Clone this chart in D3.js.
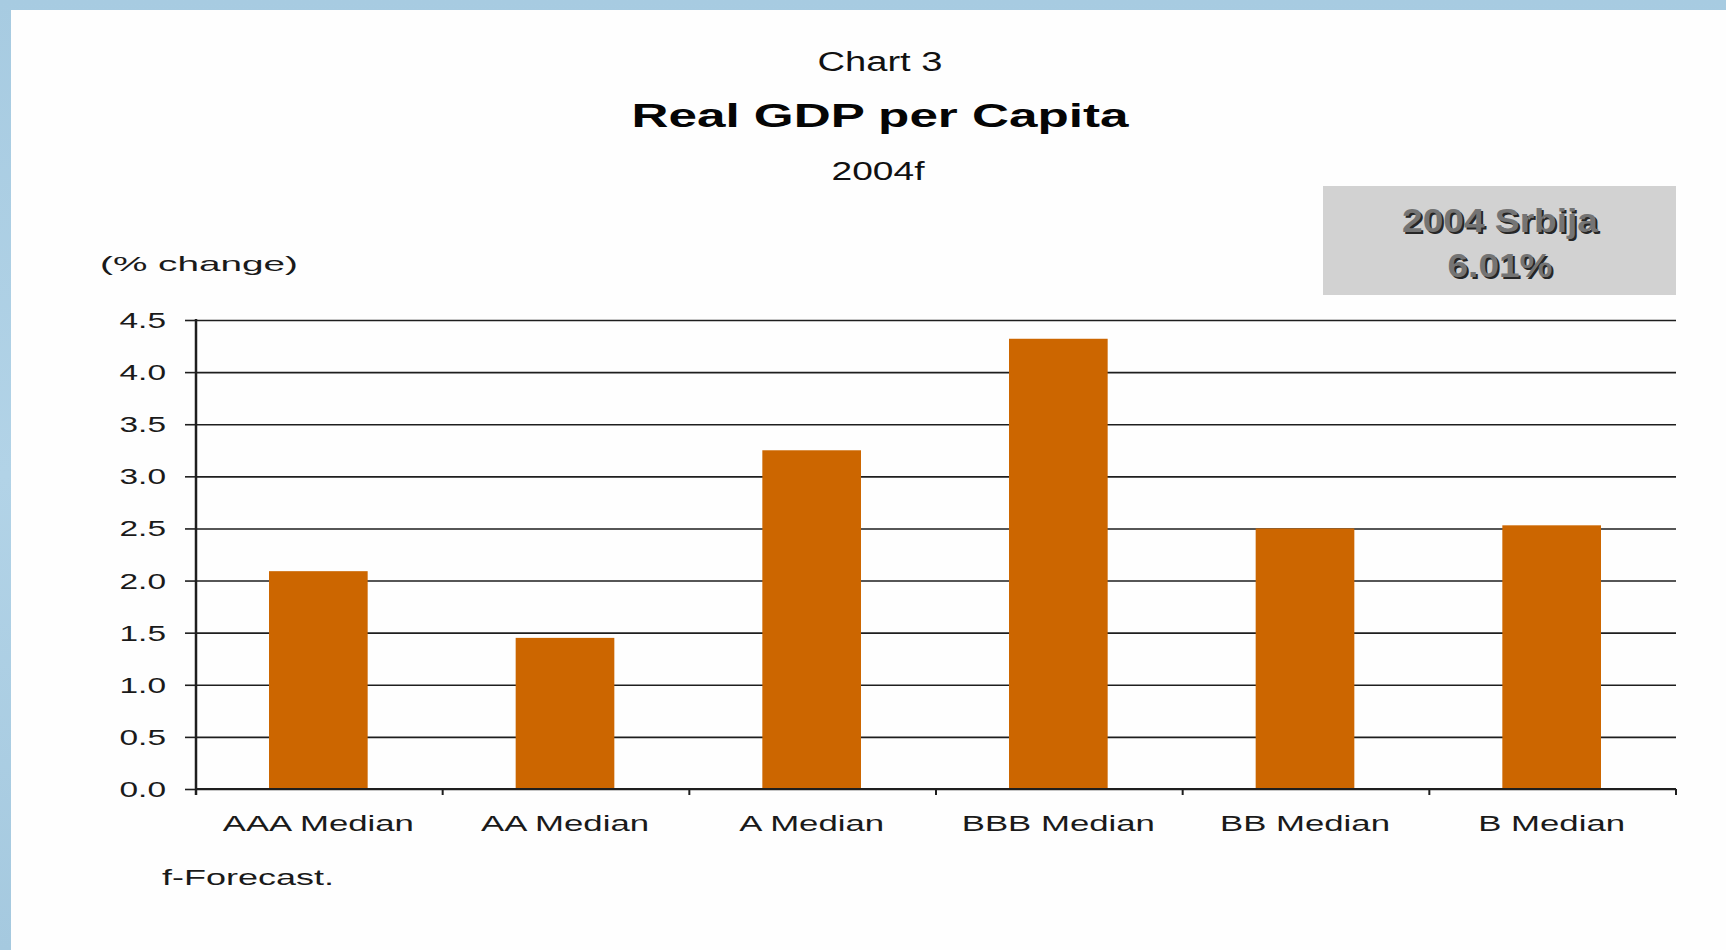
<!DOCTYPE html>
<html><head><meta charset="utf-8">
<script src="https://cdn.jsdelivr.net/npm/d3@7"></script>
<style>
body{margin:0;background:#fff;}
svg{display:block;font-family:"Liberation Sans",Arial,sans-serif;}
</style>
</head><body>
<svg id="c" width="1726" height="950"></svg>
<script>
// ---- data ----
const categories = ["AAA Median","AA Median","A Median","BBB Median","BB Median","B Median"];
const values = [2.09, 1.45, 3.25, 4.32, 2.50, 2.53];
const yTicks = [0, 0.5, 1.0, 1.5, 2.0, 2.5, 3.0, 3.5, 4.0, 4.5];
const yTickLabels = ["0.0","0.5","1.0","1.5","2.0","2.5","3.0","3.5","4.0","4.5"];
const chartLabel = "Chart 3";
const titleText = "Real GDP per Capita";
const subtitleText = "2004f";
const unitText = "(% change)";
const footnoteText = "f-Forecast.";
const boxLines = ["2004 Srbija", "6.01%"];

// ---- layout ----
const svg = d3.select("#c");
const W = 1726, H = 950;
const plot = {left:196, right:1676, top:320, bottom:789};

// background frame
const defs = svg.append("defs");
const g1 = defs.append("linearGradient").attr("id","bg").attr("x1",0).attr("y1",0).attr("x2",0).attr("y2",1);
g1.append("stop").attr("offset","0%").attr("stop-color","#a7cbe1");
g1.append("stop").attr("offset","50%").attr("stop-color","#b2d3e7");
g1.append("stop").attr("offset","100%").attr("stop-color","#a5c9df");
svg.append("rect").attr("width",W).attr("height",H).attr("fill","url(#bg)");
svg.append("rect").attr("x",11).attr("y",10).attr("width",W-11).attr("height",H-10).attr("fill","#fefefe");

const x = d3.scaleBand().domain(categories).range([plot.left, plot.right]).paddingInner(0.6).paddingOuter(0.3);
const y = d3.scaleLinear().domain([0, 4.5]).range([plot.bottom, plot.top]);

// gridlines
const grid = svg.append("g").attr("transform",`translate(${plot.left},0)`)
  .call(d3.axisLeft(y).tickValues(yTicks).tickSize(-(plot.right-plot.left)).tickFormat(""));
grid.select(".domain").remove();
grid.selectAll("line").attr("stroke","#1e1e1e").attr("stroke-width",1.6);

// bars
svg.append("g").selectAll("rect").data(values).join("rect")
  .attr("x",(d,i)=>x(categories[i]) - 1)
  .attr("y",d=>y(d))
  .attr("width",x.bandwidth())
  .attr("height",d=>y(0)-y(d))
  .attr("fill","#cc6600");

// zero line
svg.append("line").attr("x1",plot.left).attr("x2",plot.right).attr("y1",y(0)).attr("y2",y(0))
  .attr("stroke","#1e1e1e").attr("stroke-width",2);

// y axis with labels
const yAxis = svg.append("g").attr("transform",`translate(${plot.left},0)`)
  .call(d3.axisLeft(y).tickValues(yTicks).tickSizeInner(11).tickSizeOuter(0)
    .tickFormat((d,i)=>yTickLabels[i]));
yAxis.select(".domain").attr("stroke","#1e1e1e").attr("stroke-width",2.5)
  .attr("d",`M0,${plot.top - 1}V${plot.bottom + 6}`);
yAxis.selectAll(".tick line").attr("stroke","#1e1e1e").attr("stroke-width",1.6);
yAxis.selectAll(".tick text")
  .attr("x",null).attr("dy",null)
  .attr("transform","translate(-30,7.5) scale(1.52,1)")
  .attr("text-anchor","end")
  .attr("font-family","'Liberation Sans',Arial,sans-serif")
  .attr("font-size",22).attr("fill","#1a1a1a");

// x boundary ticks
const bounds = categories.map(c => x(c) - x.step()*x.paddingInner()/2).concat([plot.right]);
svg.append("g").selectAll("line").data(bounds.slice(1)).join("line")
  .attr("x1",d=>d).attr("x2",d=>d).attr("y1",y(0)).attr("y2",y(0)+6)
  .attr("stroke","#1e1e1e").attr("stroke-width",2);

// category labels
svg.append("g").selectAll("text").data(categories).join("text")
  .attr("transform",d=>`translate(${x(d)+x.bandwidth()/2 - 1},831) scale(1.58,1)`)
  .attr("text-anchor","middle").attr("font-size",22).attr("fill","#1a1a1a")
  .text(d=>d);

// titles
function stretched(txt, cx, base, size, weight, width, fill){
  return svg.append("text").attr("x",cx).attr("y",base).attr("text-anchor","middle")
    .attr("font-size",size).attr("font-weight",weight).attr("fill",fill||"#111")
    .attr("textLength",width).attr("lengthAdjust","spacingAndGlyphs").text(txt);
}
stretched(chartLabel, 880, 70.5, 27, "normal", 125);
stretched(titleText, 880, 126.5, 32.5, "bold", 497, "#050505");
stretched(subtitleText, 878, 179.5, 26, "normal", 93);

// unit label
svg.append("text").attr("x",100).attr("y",271).attr("font-size",21).attr("fill","#1a1a1a")
  .attr("textLength",198).attr("lengthAdjust","spacingAndGlyphs").text(unitText);

// footnote
svg.append("text").attr("x",162).attr("y",884.5).attr("font-size",22).attr("fill","#1a1a1a")
  .attr("textLength",172).attr("lengthAdjust","spacingAndGlyphs").text(footnoteText);

// info box
svg.append("rect").attr("x",1323).attr("y",186).attr("width",353).attr("height",109).attr("fill","#d2d2d2");
const boxBase = [232, 276.5], boxW = [196, 105];
boxLines.forEach((t,i)=>{
  svg.append("text").attr("x",1500+2).attr("y",boxBase[i]+2).attr("text-anchor","middle")
    .attr("font-size",33).attr("font-weight","bold").attr("fill","#262626")
    .attr("textLength",boxW[i]).attr("lengthAdjust","spacingAndGlyphs").text(t);
  svg.append("text").attr("x",1500).attr("y",boxBase[i]).attr("text-anchor","middle")
    .attr("font-size",33).attr("font-weight","bold").attr("fill","#747474")
    .attr("textLength",boxW[i]).attr("lengthAdjust","spacingAndGlyphs").text(t);
});
</script>
</body></html>
